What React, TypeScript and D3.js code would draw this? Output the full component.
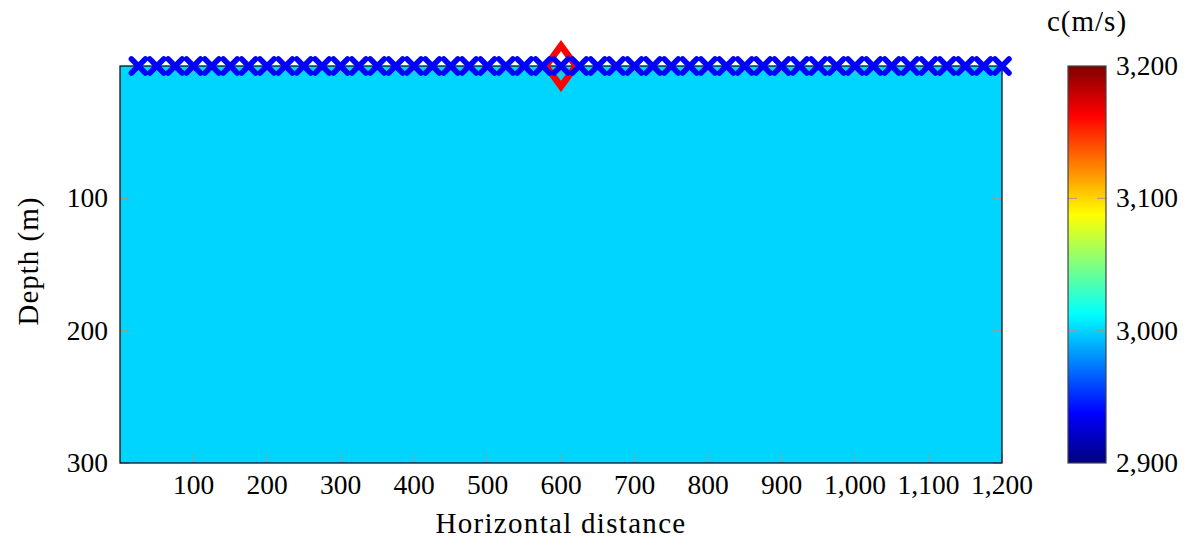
import { useEffect, useRef } from "react";
import * as d3 from "d3";

// receivers along the surface (m)
const receiverX = [
  25, 50, 75, 100, 125, 150, 175, 200, 225, 250, 275, 300, 325, 350, 375, 400,
  425, 450, 475, 500, 525, 550, 575, 600, 625, 650, 675, 700, 725, 750, 775, 800,
  825, 850, 875, 900, 925, 950, 975, 1000, 1025, 1050, 1075, 1100, 1125, 1150,
  1175, 1200,
];
const receiverDepth = 0;
const sourceX = [600];
const sourceDepth = [0];

// homogeneous velocity model
const modelVelocity = [3000];
const xDomain = [0, 1200];
const depthDomain = [0, 300];
const colorDomain = [2900, 3200];

const xTicks = [100, 200, 300, 400, 500, 600, 700, 800, 900, 1000, 1100, 1200];
const yTicks = [100, 200, 300];
const cbTicks = [2900, 3000, 3100, 3200];

// pgfplots jet
const jetPos = [0, 1, 3, 5, 7, 8];
const jetColors = ["#000080", "#0000ff", "#00ffff", "#ffff00", "#ff0000", "#800000"];

const FONT = "'Liberation Serif', 'Times New Roman', serif";
const NUM_SIZE = "27.5px";
const LABEL_SIZE = "29px";

const App = () => {
  const svgRef = useRef<SVGSVGElement>(null);

  useEffect(() => {
    document.body.style.margin = "0";
    const width = 1197;
    const height = 550;
    const plot = { left: 120, right: 1002, top: 66, bottom: 463 };
    const cb = { left: 1068, right: 1106 };

    const svg = d3.select(svgRef.current);
    svg.selectAll("*").remove();
    svg.attr("width", width).attr("height", height);

    const x = d3.scaleLinear().domain(xDomain).range([plot.left, plot.right]);
    const y = d3.scaleLinear().domain(depthDomain).range([plot.top, plot.bottom]);

    const jetValues = jetPos.map(
      (p) => colorDomain[0] + (p / 8) * (colorDomain[1] - colorDomain[0])
    );
    const color = d3
      .scaleLinear<string>()
      .domain(jetValues)
      .range(jetColors)
      .interpolate(d3.interpolateRgb);

    // velocity field
    svg
      .append("rect")
      .attr("x", x(xDomain[0]))
      .attr("y", y(depthDomain[0]))
      .attr("width", x(xDomain[1]) - x(xDomain[0]))
      .attr("height", y(depthDomain[1]) - y(depthDomain[0]))
      .attr("fill", color(modelVelocity[0]));

    const tickLen = 9;
    const tickColor = "#9a9a9a";
    const ticks = svg.append("g").attr("stroke", tickColor).attr("stroke-width", 1);
    xTicks.forEach((t) => {
      ticks.append("line").attr("x1", x(t)).attr("x2", x(t)).attr("y1", plot.bottom).attr("y2", plot.bottom - tickLen);
      ticks.append("line").attr("x1", x(t)).attr("x2", x(t)).attr("y1", plot.top).attr("y2", plot.top + tickLen);
    });
    yTicks.forEach((t) => {
      ticks.append("line").attr("x1", plot.left).attr("x2", plot.left + tickLen).attr("y1", y(t)).attr("y2", y(t));
      ticks.append("line").attr("x1", plot.right).attr("x2", plot.right - tickLen).attr("y1", y(t)).attr("y2", y(t));
    });

    // frame
    svg
      .append("rect")
      .attr("x", plot.left)
      .attr("y", plot.top)
      .attr("width", plot.right - plot.left)
      .attr("height", plot.bottom - plot.top)
      .attr("fill", "none")
      .attr("stroke", "#000")
      .attr("stroke-width", 1.2);

    const fmt = d3.format(",");

    // tick labels
    svg
      .append("g")
      .selectAll("text")
      .data(xTicks)
      .enter()
      .append("text")
      .attr("x", (d) => x(d))
      .attr("y", 494)
      .attr("text-anchor", "middle")
      .style("font-family", FONT)
      .style("font-size", NUM_SIZE)
      .text((d) => fmt(d));

    svg
      .append("g")
      .selectAll("text")
      .data(yTicks)
      .enter()
      .append("text")
      .attr("x", 108)
      .attr("y", (d) => y(d))
      .attr("dy", "0.33em")
      .attr("text-anchor", "end")
      .style("font-family", FONT)
      .style("font-size", NUM_SIZE)
      .text((d) => fmt(d));

    // axis labels
    svg
      .append("text")
      .attr("x", 561)
      .attr("y", 533)
      .attr("text-anchor", "middle")
      .style("font-family", FONT)
      .style("font-size", LABEL_SIZE)
      .style("letter-spacing", "1.3px")
      .text("Horizontal distance");

    svg
      .append("text")
      .attr("transform", `translate(38,261) rotate(-90)`)
      .attr("text-anchor", "middle")
      .style("font-family", FONT)
      .style("font-size", LABEL_SIZE)
      .style("letter-spacing", "1px")
      .text("Depth (m)");

    // source
    const sx = 15;
    const sy = 20.5;
    svg
      .append("g")
      .selectAll("path")
      .data(sourceX)
      .enter()
      .append("path")
      .attr("d", (d, i) => {
        const cx = x(d);
        const cy = y(sourceDepth[i]);
        return `M${cx},${cy - sy}L${cx + sx},${cy}L${cx},${cy + sy}L${cx - sx},${cy}Z`;
      })
      .attr("fill", "none")
      .attr("stroke", "#ff0000")
      .attr("stroke-width", 6.5)
      .attr("stroke-linejoin", "miter");

    // receivers
    const r = 7;
    const rec = svg
      .append("g")
      .attr("stroke", "#0000ff")
      .attr("stroke-width", 5.5)
      .attr("stroke-linecap", "round");
    receiverX.forEach((d) => {
      const cx = x(d);
      const cy = y(receiverDepth);
      rec.append("path").attr("d", `M${cx - r},${cy - r}L${cx + r},${cy + r}M${cx - r},${cy + r}L${cx + r},${cy - r}`);
    });

    // colorbar
    const cbY = d3.scaleLinear().domain(colorDomain).range([plot.bottom, plot.top]);
    const grad = svg
      .append("defs")
      .append("linearGradient")
      .attr("id", "jet")
      .attr("x1", 0)
      .attr("x2", 0)
      .attr("y1", 1)
      .attr("y2", 0);
    jetPos.forEach((p, i) => {
      grad.append("stop").attr("offset", `${(p / 8) * 100}%`).attr("stop-color", jetColors[i]);
    });
    svg
      .append("rect")
      .attr("x", cb.left)
      .attr("y", cbY(colorDomain[1]))
      .attr("width", cb.right - cb.left)
      .attr("height", cbY(colorDomain[0]) - cbY(colorDomain[1]))
      .attr("fill", "url(#jet)");

    const cbTickG = svg.append("g").attr("stroke", tickColor).attr("stroke-width", 1);
    cbTicks.slice(1, -1).forEach((t) => {
      cbTickG.append("line").attr("x1", cb.left).attr("x2", cb.left + tickLen).attr("y1", cbY(t)).attr("y2", cbY(t));
      cbTickG.append("line").attr("x1", cb.right).attr("x2", cb.right - tickLen).attr("y1", cbY(t)).attr("y2", cbY(t));
    });

    svg
      .append("rect")
      .attr("x", cb.left)
      .attr("y", cbY(colorDomain[1]))
      .attr("width", cb.right - cb.left)
      .attr("height", cbY(colorDomain[0]) - cbY(colorDomain[1]))
      .attr("fill", "none")
      .attr("stroke", "#444")
      .attr("stroke-width", 1.2);

    svg
      .append("g")
      .selectAll("text")
      .data(cbTicks)
      .enter()
      .append("text")
      .attr("x", 1116)
      .attr("y", (d) => cbY(d))
      .attr("dy", "0.33em")
      .style("font-family", FONT)
      .style("font-size", NUM_SIZE)
      .text((d) => fmt(d));

    svg
      .append("text")
      .attr("x", 1087)
      .attr("y", 31)
      .attr("text-anchor", "middle")
      .style("font-family", FONT)
      .style("font-size", LABEL_SIZE)
      .style("letter-spacing", "1px")
      .text("c(m/s)");
  }, []);

  return <svg ref={svgRef} style={{ display: "block" }}></svg>;
};

export default App;
